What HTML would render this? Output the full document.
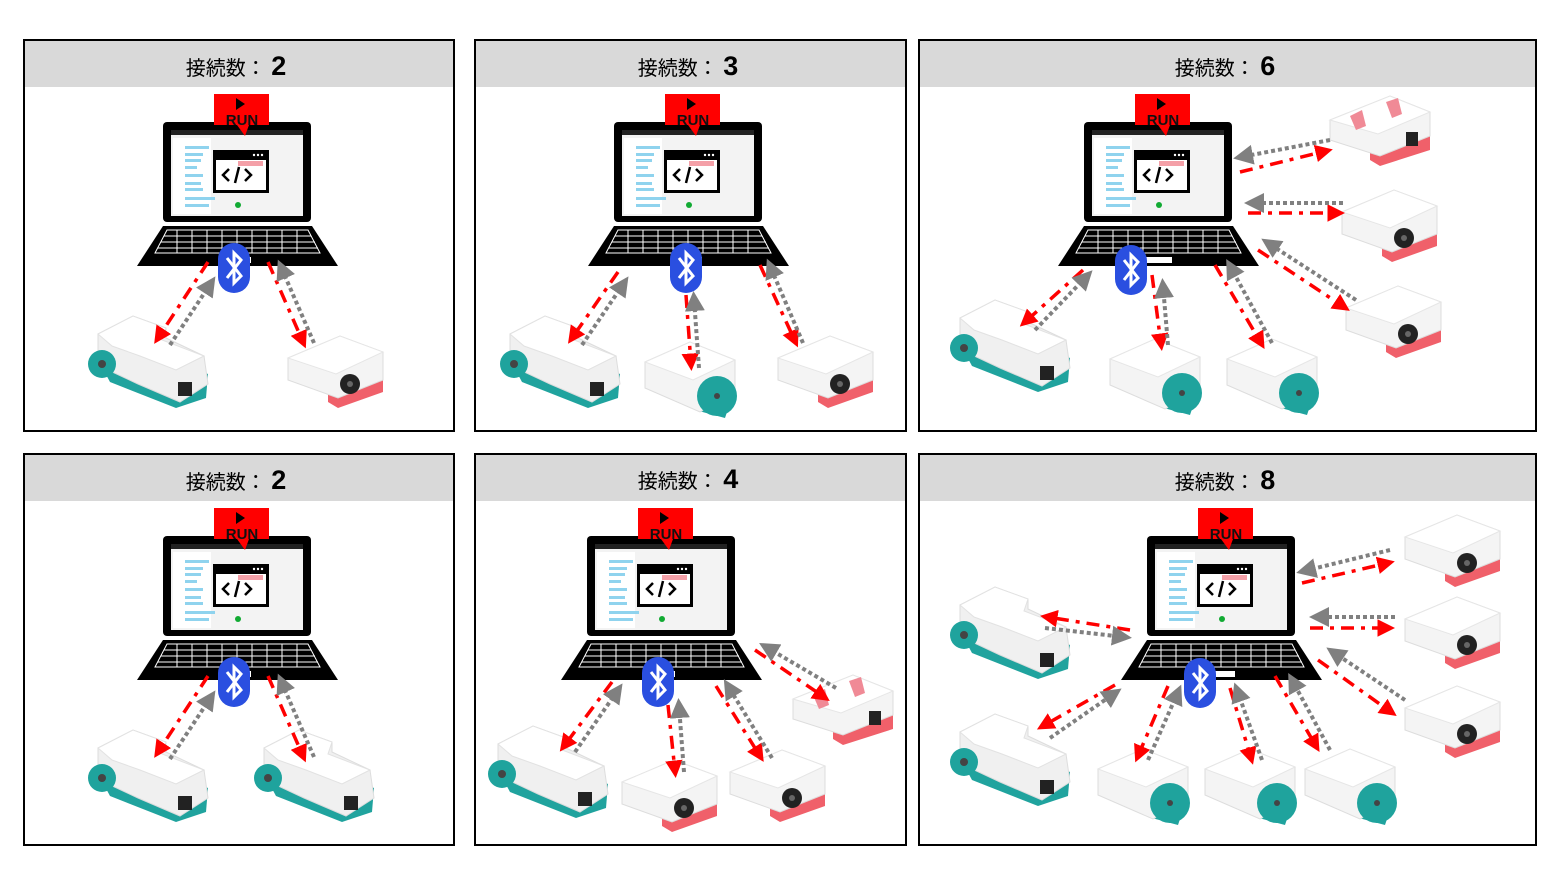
<!DOCTYPE html>
<html><head><meta charset="utf-8"><style>
html,body{margin:0;padding:0;background:#fff;}
svg{display:block;}
.hd{font-family:"Liberation Sans","Noto Sans CJK JP",sans-serif;font-size:20px;fill:#000;}
.num{font-size:27px;font-weight:bold;}
.run{font-family:"Liberation Sans",sans-serif;font-weight:bold;font-size:15px;fill:#111;}
.r{stroke:#f00;stroke-width:3.5;stroke-dasharray:13 7 4 7;fill:none;marker-end:url(#mr);}
.g{stroke:#808080;stroke-width:4;stroke-dasharray:4 3;fill:none;marker-end:url(#mg);}
</style></head><body>
<svg width="1562" height="889" viewBox="0 0 1562 889" xmlns="http://www.w3.org/2000/svg">
<defs>
<marker id="mr" markerWidth="5" markerHeight="5" refX="3" refY="2.5" orient="auto" markerUnits="strokeWidth"><path d="M0,0L5,2.5L0,5z" fill="#f00"/></marker>
<marker id="mg" markerWidth="5" markerHeight="5" refX="3" refY="2.5" orient="auto" markerUnits="strokeWidth"><path d="M0,0L5,2.5L0,5z" fill="#808080"/></marker>
<symbol id="lap" width="201" height="175" overflow="visible">
<rect x="26" y="28" width="148" height="100" rx="4" fill="#000"/>
<rect x="34" y="36" width="132" height="86" fill="#f3f3f3"/>
<rect x="34" y="36" width="132" height="5" fill="#222"/>
<rect x="36" y="44" width="38" height="76" fill="#fff"/>
<g fill="#8fd3ee"><rect x="48" y="52" width="24" height="3"/><rect x="48" y="59" width="18" height="3"/><rect x="48" y="65" width="16" height="3"/><rect x="48" y="72" width="12" height="3"/><rect x="48" y="80" width="18" height="3"/><rect x="48" y="88" width="16" height="3"/><rect x="48" y="94" width="18" height="3"/><rect x="48" y="103" width="30" height="3"/><rect x="48" y="110" width="24" height="3"/></g>
<rect x="76" y="56" width="56" height="43" fill="#000"/>
<rect x="79" y="66" width="50" height="30" fill="#fff"/>
<circle cx="117" cy="61" r="1.2" fill="#fff"/><circle cx="121" cy="61" r="1.2" fill="#fff"/><circle cx="125" cy="61" r="1.2" fill="#fff"/>
<rect x="101" y="67" width="25" height="5" fill="#f4a0a8"/>
<path d="M92,75l-6,6l6,6M108,75l6,6l-6,6M102,73l-4,16" stroke="#000" stroke-width="2.5" fill="none"/>
<circle cx="101" cy="111" r="3" fill="#1a3"/>
<path d="M26,132H175L201,172H0Z" fill="#000"/>
<g stroke="#fff" stroke-width="1" fill="none">
<path d="M30,136H171L183,159H18Z"/>
<path d="M27,142H174M24,148H178M21,154H181"/>
<path d="M40,136V159M55,136V159M70,136V159M85,136V159M100,136V159M115,136V159M130,136V159M145,136V159M160,136V159"/>
</g>
<rect x="88" y="163" width="26" height="6" fill="#fff"/>
<path d="M77,0H132V31H112L108,42L100,31H77Z" fill="#f00"/>
<path d="M99,4L108,10L99,16Z" fill="#000"/>
</symbol>
<symbol id="bt" width="34" height="54" overflow="visible">
<rect x="0" y="0" width="32" height="50" rx="16" fill="#2a4fe0"/>
<path d="M9,15L23,33L16,40V10L23,17L9,35" stroke="#fff" stroke-width="3" fill="none"/>
</symbol>
<symbol id="big" width="122" height="96" overflow="visible">
<path d="M8,44L22,70L88,96L118,86L120,62L70,40Z" fill="#20a39e"/>
<path d="M10,22L45,4L78,16L78,26L116,44L120,72L92,90L50,72L20,58L10,46Z" fill="#f0f0f0" stroke="#ddd"/>
<path d="M10,22L45,4L78,16L74,28L116,44L88,58L52,44L24,34Z" fill="#fff" stroke="#e2e2e2"/>
<circle cx="14" cy="52" r="14" fill="#1fa39d"/><circle cx="14" cy="52" r="4" fill="#444"/>
<rect x="90" y="70" width="14" height="14" fill="#222"/>
</symbol>
<symbol id="red" width="95" height="72" overflow="visible">
<path d="M40,42L95,30V56L50,72L40,66Z" fill="#f0606a"/>
<path d="M0,22L52,0L95,16V44L50,62L0,44Z" fill="#f4f4f4" stroke="#ddd"/>
<path d="M0,22L52,0L95,16L48,38Z" fill="#fff" stroke="#e6e6e6"/>
<circle cx="62" cy="48" r="10" fill="#222"/><circle cx="62" cy="48" r="3" fill="#666"/>
</symbol>
<symbol id="lev" width="102" height="70" overflow="visible">
<path d="M40,42L100,28V54L50,70L40,64Z" fill="#f0606a"/>
<path d="M0,24L60,0L100,16V40L50,60L0,44Z" fill="#f4f4f4" stroke="#ddd"/>
<path d="M0,24L60,0L100,16L48,38Z" fill="#fff" stroke="#e6e6e6"/>
<path d="M20,20L32,14L36,30L26,34Z" fill="#f08a96"/><path d="M56,6L68,2L72,18L62,22Z" fill="#f08a96"/>
<rect x="76" y="36" width="12" height="14" fill="#222"/>
</symbol>
<symbol id="teal" width="95" height="82" overflow="visible">
<path d="M5,40L50,72L80,80L90,50Z" fill="#20a39e"/>
<path d="M0,24L45,4L90,22V56L55,74L0,50Z" fill="#f4f4f4" stroke="#ddd"/>
<path d="M0,24L45,4L90,22L48,42Z" fill="#fff" stroke="#e6e6e6"/>
<circle cx="72" cy="58" r="20" fill="#1fa39d"/><circle cx="72" cy="58" r="3" fill="#444"/>
</symbol>
</defs>

<g stroke="#000" stroke-width="2" fill="#fff">
<rect x="24" y="40" width="430" height="391"/><rect x="475" y="40" width="431" height="391"/><rect x="919" y="40" width="617" height="391"/>
<rect x="24" y="454" width="430" height="391"/><rect x="475" y="454" width="431" height="391"/><rect x="919" y="454" width="617" height="391"/>
</g>
<g fill="#d9d9d9">
<rect x="25" y="41" width="428" height="46"/><rect x="476" y="41" width="429" height="46"/><rect x="920" y="41" width="615" height="46"/>
<rect x="25" y="455" width="428" height="46"/><rect x="476" y="455" width="429" height="46"/><rect x="920" y="455" width="615" height="46"/>
</g>
<text class="hd" x="236" y="75" text-anchor="middle">接続数： <tspan class="num">2</tspan></text>
<text class="hd" x="688" y="75" text-anchor="middle">接続数： <tspan class="num">3</tspan></text>
<text class="hd" x="1225" y="75" text-anchor="middle">接続数： <tspan class="num">6</tspan></text>
<text class="hd" x="236" y="489" text-anchor="middle">接続数： <tspan class="num">2</tspan></text>
<text class="hd" x="688" y="488" text-anchor="middle">接続数： <tspan class="num">4</tspan></text>
<text class="hd" x="1225" y="489" text-anchor="middle">接続数： <tspan class="num">8</tspan></text>

<use href="#lap" x="137" y="94"/><use href="#lap" x="588" y="94"/><use href="#lap" x="1058" y="94"/>
<use href="#lap" x="137" y="508"/><use href="#lap" x="561" y="508"/><use href="#lap" x="1121" y="508"/>
<text class="run" x="242" y="125" text-anchor="middle">RUN</text>
<text class="run" x="693" y="125" text-anchor="middle">RUN</text>
<text class="run" x="1163" y="125" text-anchor="middle">RUN</text>
<text class="run" x="242" y="539" text-anchor="middle">RUN</text>
<text class="run" x="666" y="539" text-anchor="middle">RUN</text>
<text class="run" x="1226" y="539" text-anchor="middle">RUN</text>

<use href="#big" x="88" y="312"/><use href="#red" x="288" y="336"/>
<use href="#big" x="500" y="312"/><use href="#teal" x="645" y="338"/><use href="#red" x="778" y="336"/>
<use href="#big" x="950" y="296"/><use href="#teal" x="1110" y="335"/><use href="#teal" x="1227" y="335"/>
<use href="#lev" x="1330" y="96"/><use href="#red" x="1342" y="190"/><use href="#red" x="1346" y="286"/>
<use href="#big" x="88" y="726"/><use href="#big" x="254" y="726"/>
<use href="#big" x="488" y="722"/><use href="#red" x="622" y="760"/><use href="#red" x="730" y="750"/><use href="#lev" x="793" y="675"/>
<use href="#big" x="950" y="583"/><use href="#big" x="950" y="710"/>
<use href="#teal" x="1098" y="745"/><use href="#teal" x="1205" y="745"/><use href="#teal" x="1305" y="745"/>
<use href="#red" x="1405" y="515"/><use href="#red" x="1405" y="597"/><use href="#red" x="1405" y="686"/>

<g>
<path class="r" d="M208,262L158,338"/><path class="g" d="M170,345L211,283"/>
<path class="r" d="M268,262L303,342"/><path class="g" d="M314,343L281,267"/>
<path class="r" d="M618,272L572,338"/><path class="g" d="M582,345L624,283"/>
<path class="r" d="M686,295L691,364"/><path class="g" d="M699,368L694,299"/>
<path class="r" d="M760,265L795,341"/><path class="g" d="M803,343L770,266"/>
<path class="r" d="M1083,270L1025,322"/><path class="g" d="M1035,330L1087,276"/>
<path class="r" d="M1152,275L1161,344"/><path class="g" d="M1168,345L1163,286"/>
<path class="r" d="M1215,265L1261,343"/><path class="g" d="M1272,343L1230,266"/>
<path class="r" d="M1258,250L1344,307"/><path class="g" d="M1356,300L1268,243"/>
<path class="r" d="M1248,213L1338,213"/><path class="g" d="M1343,203L1252,203"/>
<path class="r" d="M1240,172L1326,151"/><path class="g" d="M1330,140L1241,157"/>
<path class="r" d="M208,676L158,752"/><path class="g" d="M170,759L211,697"/>
<path class="r" d="M268,676L303,756"/><path class="g" d="M314,757L281,681"/>
<path class="r" d="M612,682L564,746"/><path class="g" d="M575,752L618,690"/>
<path class="r" d="M668,705L675,771"/><path class="g" d="M684,772L679,706"/>
<path class="r" d="M716,686L760,756"/><path class="g" d="M772,758L728,686"/>
<path class="r" d="M755,650L824,697"/><path class="g" d="M836,688L766,647"/>
<path class="r" d="M1130,630L1047,617"/><path class="g" d="M1045,628L1124,637"/>
<path class="r" d="M1115,685L1043,726"/><path class="g" d="M1050,738L1115,693"/>
<path class="r" d="M1168,686L1138,756"/><path class="g" d="M1148,760L1178,692"/>
<path class="r" d="M1230,688L1251,758"/><path class="g" d="M1262,760L1237,690"/>
<path class="r" d="M1275,676L1316,746"/><path class="g" d="M1330,750L1292,680"/>
<path class="r" d="M1318,660L1391,712"/><path class="g" d="M1405,700L1333,652"/>
<path class="r" d="M1310,628L1388,628"/><path class="g" d="M1395,617L1317,617"/>
<path class="r" d="M1302,583L1388,563"/><path class="g" d="M1390,550L1304,571"/>
</g>

<use href="#bt" x="218" y="243"/><use href="#bt" x="670" y="243"/><use href="#bt" x="1115" y="245"/>
<use href="#bt" x="218" y="657"/><use href="#bt" x="642" y="657"/><use href="#bt" x="1184" y="658"/>
</svg>
</body></html>
